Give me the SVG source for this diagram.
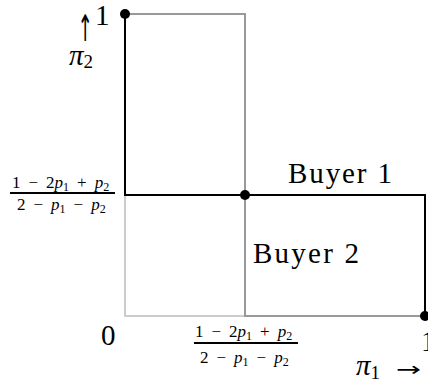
<svg xmlns="http://www.w3.org/2000/svg" width="428" height="383" viewBox="0 0 428 383">
<style>
text{font-family:"Liberation Serif","DejaVu Serif",serif;fill:#000}
.big{font-size:29px}
.frac{font-size:17px}
.it{font-style:italic}
.sub{font-size:12px}
.arr{font-family:"DejaVu Sans","Liberation Sans",sans-serif;fill:#000}
.blk{stroke:#000;stroke-width:2;fill:none}
.gry{stroke:#999;stroke-width:2;fill:none}
.lgt{stroke:#ccc;stroke-width:2;fill:none}
</style>
<rect width="428" height="383" fill="#fff"/>
<g id="connectors">
<path class="lgt" d="M125,196 V316 H245"/>
<path class="gry" d="M125,14 H245 V316 H425"/>
<path class="blk" d="M125,14 V196 M124,195 H425 V316"/>
<line class="blk" x1="10" y1="193" x2="115" y2="193"/>
<line class="blk" x1="194" y1="343" x2="298" y2="343"/>
</g>
<g id="dots">
<circle cx="125" cy="14" r="5"/>
<circle cx="245" cy="195" r="5"/>
<circle cx="425" cy="316" r="5"/>
</g>
<g id="labels">
<text class="big" x="95" y="25">1</text>
<text class="arr" transform="translate(85,41) scale(0.7,1.4)" text-anchor="middle" style="font-size:26px;fill:#000">↑</text>
<text class="big" x="69" y="65"><tspan class="it">π</tspan><tspan dy="3" style="font-size:19px">2</tspan></text>
<text class="big" x="288" y="183" textLength="104">Buyer 1</text>
<text class="big" x="253" y="263" textLength="106">Buyer 2</text>
<text class="big" x="101" y="345">0</text>
<text class="big" x="421" y="351">1</text>
<text class="big" x="356" y="375"><tspan class="it">π</tspan><tspan dy="4" style="font-size:19px">1</tspan></text>
<text class="arr" transform="translate(396,376) scale(1,0.75)" textLength="25" lengthAdjust="spacingAndGlyphs" style="font-size:26px">→</text>
<text class="frac" x="12" y="188">1<tspan dx="8">−</tspan><tspan dx="8">2</tspan><tspan class="it">p</tspan><tspan class="sub" dy="3">1</tspan><tspan dy="-3" dx="8">+</tspan><tspan class="it" dx="8">p</tspan><tspan class="sub" dy="3">2</tspan></text>
<text class="frac" x="17" y="210">2<tspan dx="8">−</tspan><tspan class="it" dx="8">p</tspan><tspan class="sub" dy="3">1</tspan><tspan dy="-3" dx="8">−</tspan><tspan class="it" dx="8">p</tspan><tspan class="sub" dy="3">2</tspan></text>
<text class="frac" x="195" y="337">1<tspan dx="8">−</tspan><tspan dx="8">2</tspan><tspan class="it">p</tspan><tspan class="sub" dy="3">1</tspan><tspan dy="-3" dx="8">+</tspan><tspan class="it" dx="8">p</tspan><tspan class="sub" dy="3">2</tspan></text>
<text class="frac" x="200" y="363">2<tspan dx="8">−</tspan><tspan class="it" dx="8">p</tspan><tspan class="sub" dy="3">1</tspan><tspan dy="-3" dx="8">−</tspan><tspan class="it" dx="8">p</tspan><tspan class="sub" dy="3">2</tspan></text>
</g>
</svg>
